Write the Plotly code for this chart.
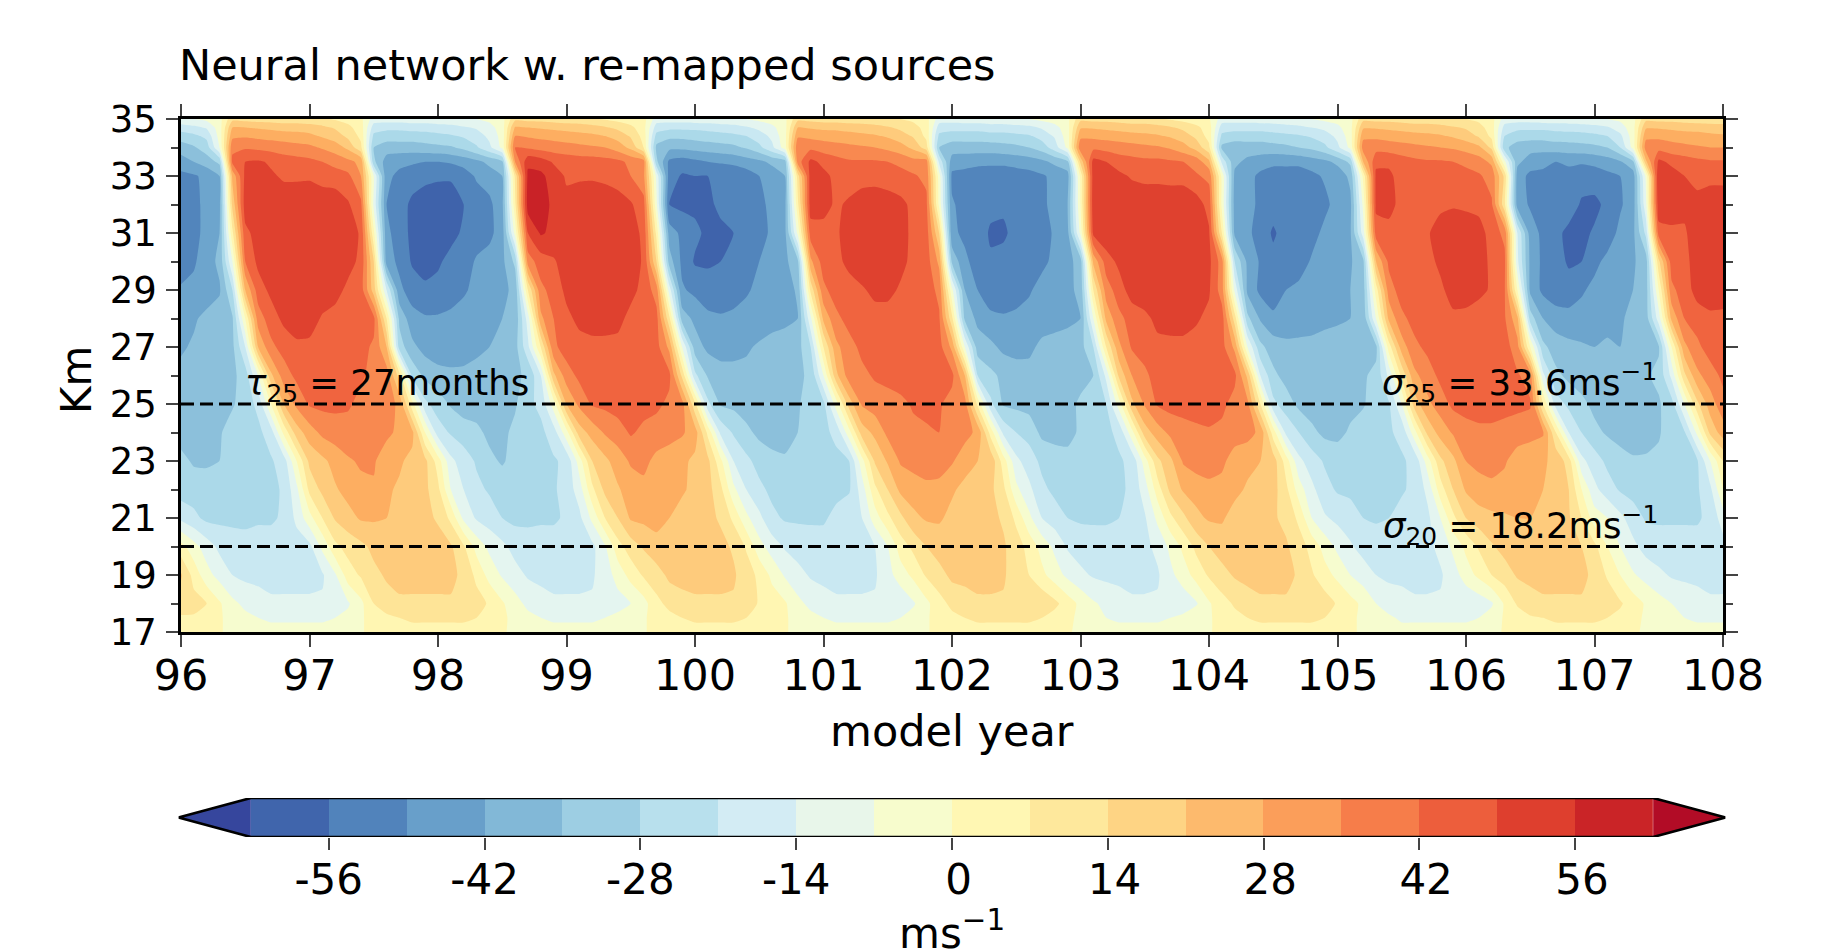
import plotly.graph_objects as go

title_text = "Neural network w. re-mapped sources"
years = [96 + n / 10 for n in range(121)]
heights = [17, 17.5, 18, 19, 20, 21, 22, 23, 24, 25, 26, 27, 28, 29, 30, 31, 32, 33, 33.5, 34, 34.4, 34.7, 35]
x_ticks = list(range(96, 109))
y_ticks = list(range(17, 36, 2))
cbar_ticks = [-56, -42, -28, -14, 0, 14, 28, 42, 56]
cbar_labels = ["-56", "-42", "-28", "-14", "\u00a00", "\u00a014", "\u00a028", "\u00a042", "\u00a056"]
cbar_edges = list(range(-63, 64, 7))
cbar_mids = [e + 3.5 for e in cbar_edges[:-1]]
main_mids = [-68, -60, -52, -44, -36, -28, -20, -12, -4, 4, 12, 20, 28, 36, 44, 52, 60, 68]
ref_levels = [25, 20]
stops = ["#313695", "#4575b4", "#74add1", "#abd9e9", "#e0f3f8", "#ffffbf", "#fee090", "#fdae61", "#f46d43", "#d73027", "#a50026"]

km35 = [-10,-8,-6,-3,14,13,12,12,11,11,
 10,9,7,5,2,-12,-12,-12,-11,-11,
 -10,-10,-9,-8,-6,-3,14,13,13,12,
 11,11,9,7,5,3,3,-12,-12,-12,
 -11,-11,-10,-10,-8,-6,-4,-2,14,13,
 12,12,11,11,10,9,8,6,3,-12,
 -12,-11,-11,-10,-10,-9,-8,-6,-4,-2,
 14,13,13,12,11,11,9,7,5,3,
 1,-12,-12,-12,-11,-11,-10,-9,-8,-6,
 -5,-3,14,13,13,12,11,11,10,9,
 8,6,3,-12,-12,-12,-11,-11,-10,-10,
 -9,-8,-6,-3,14,13,13,12,11,11,
 10]
km34p7 = [-20,-18,-15,-4,24,24,23,22,21,21,
 20,18,15,10,4,-20,-22,-22,-21,-21,
 -20,-19,-17,-15,-11,-4,25,24,23,22,
 21,20,19,17,14,10,3,-20,-22,-22,
 -22,-21,-20,-19,-17,-14,-10,-3,24,23,
 22,22,21,20,19,17,14,11,5,-20,
 -21,-21,-21,-20,-20,-19,-18,-15,-11,-3,
 23,23,22,21,20,20,19,17,14,10,
 4,-20,-21,-21,-21,-20,-19,-18,-16,-14,
 -10,-3,23,23,22,21,20,20,19,17,
 15,11,4,-19,-22,-22,-22,-21,-21,-20,
 -19,-17,-12,-3,23,23,22,21,21,20,
 20]
km34p4 = [-28,-26,-22,-5,30,31,30,29,28,27,
 26,23,20,14,6,-26,-28,-28,-28,-27,
 -26,-25,-23,-20,-14,-5,32,31,30,29,
 28,27,26,24,21,15,5,-27,-30,-30,
 -29,-28,-27,-26,-24,-20,-14,-3,31,30,
 29,28,27,26,25,23,20,15,6,-26,
 -28,-28,-28,-27,-27,-26,-25,-21,-15,-4,
 30,30,29,28,27,26,25,23,20,14,
 5,-26,-28,-28,-28,-27,-26,-25,-23,-20,
 -14,-4,30,30,29,28,27,26,25,23,
 20,15,6,-24,-28,-29,-29,-28,-27,-27,
 -26,-24,-18,-4,30,30,29,28,27,26,
 25]
km34 = [-36,-33,-28,-8,38,39,38,37,36,35,
 34,31,28,22,10,-32,-36,-36,-36,-35,
 -34,-33,-30,-25,-18,-6,40,39,37,36,
 35,34,33,32,28,22,8,-34,-38,-38,
 -37,-36,-35,-34,-31,-26,-18,-4,38,38,
 36,35,34,33,32,30,27,22,12,-32,
 -36,-36,-36,-36,-35,-34,-32,-28,-20,-6,
 38,38,37,36,35,34,33,31,27,21,
 10,-34,-37,-36,-36,-35,-34,-32,-30,-26,
 -18,-6,36,37,36,35,34,33,32,31,
 29,26,14,-30,-36,-37,-37,-36,-36,-35,
 -34,-32,-24,-5,36,37,35,34,33,32,
 32]
km33p5 = [-44,-40,-36,-30,42,48,49,47,44,43,
 42,40,37,34,30,-30,-44,-46,-47,-48,
 -48,-47,-45,-42,-38,-34,32,54,52,47,
 45,44,44,43,42,38,36,-30,-50,-52,
 -50,-48,-47,-46,-44,-42,-38,-36,36,50,
 46,43,41,41,41,40,38,35,36,-18,
 -44,-45,-46,-46,-46,-45,-44,-42,-38,-34,
 18,51,48,44,43,42,42,41,40,37,
 26,-18,-38,-42,-44,-46,-46,-46,-44,-42,
 -38,-30,24,46,47,44,42,41,41,40,
 38,36,30,-6,-38,-44,-46,-48,-46,-47,
 -46,-44,-41,-34,22,50,46,44,42,41,
 41]
km33 = [-50,-49,-46,-40,26,50,51,49,47,47,
 47,45,44,42,32,-8,-46,-50,-52,-54,
 -55,-55,-52,-47,-44,-40,10,58,58,52,
 47,47,47,46,44,40,34,-10,-52,-57,
 -56,-56,-55,-54,-52,-48,-45,-40,12,52,
 50,46,45,45,45,44,43,41,38,-4,
 -50,-51,-52,-53,-53,-52,-51,-49,-46,-43,
 2,52,53,50,47,46,46,45,45,41,
 38,-2,-42,-45,-50,-52,-52,-52,-50,-47,
 -45,-38,2,50,49,46,45,45,45,44,
 43,41,37,14,-44,-50,-50,-51,-52,-53,
 -52,-50,-48,-44,-6,56,52,48,46,46,
 46]
km32 = [-53,-50,-46,-42,18,52,53,53,52,52,
 53,53,53,49,42,-10,-48,-52,-58,-60,
 -60,-60,-56,-52,-50,-42,6,60,60,54,
 50,52,53,53,52,49,43,-6,-56,-58,
 -58,-58,-54,-53,-52,-50,-46,-42,6,52,
 50,47,49,52,53,52,50,46,42,-2,
 -47,-51,-53,-54,-55,-55,-53,-50,-45,-40,
 0,53,54,54,54,53,53,54,54,52,
 45,-2,-43,-45,-50,-53,-54,-54,-53,-50,
 -45,-42,-6,50,50,46,45,44,46,47,
 46,45,41,10,-44,-49,-50,-50,-52,-57,
 -58,-54,-49,-44,-10,54,53,50,50,52,
 52]
km31 = [-54,-50,-46,-40,6,46,51,52,52,53,
 56,54,53,52,47,2,-46,-52,-58,-60,
 -60,-58,-55,-52,-50,-44,-5,48,57,54,
 53,52,52,53,53,52,46,6,-44,-50,
 -54,-58,-58,-56,-53,-50,-47,-42,-6,44,
 46,47,51,54,55,54,51,46,44,16,
 -46,-50,-52,-57,-57,-54,-53,-51,-47,-42,
 -6,50,54,54,54,55,55,54,54,53,
 49,8,-42,-46,-52,-57,-53,-52,-51,-46,
 -44,-41,-12,44,46,46,45,47,52,54,
 54,52,44,38,-16,-44,-50,-54,-58,-58,
 -55,-52,-46,-42,-22,44,46,47,52,53,
 53]
km30 = [-52,-49,-44,-38,-8,40,50,52,52,52,
 52,53,53,51,46,16,-44,-50,-57,-58,
 -57,-54,-52,-47,-45,-42,-30,36,44,47,
 52,53,53,53,53,52,47,16,-36,-50,
 -57,-57,-56,-53,-52,-48,-45,-42,-34,30,
 44,46,50,53,53,52,50,46,44,30,
 -34,-46,-52,-55,-54,-53,-52,-50,-46,-43,
 -36,26,44,50,54,54,54,54,54,53,
 50,36,-24,-42,-49,-54,-55,-52,-47,-45,
 -43,-41,-34,24,42,45,45,45,50,53,
 53,52,46,42,-14,-42,-50,-53,-57,-56,
 -50,-46,-43,-41,-36,14,44,46,51,53,
 53]
km29 = [-47,-46,-44,-41,-24,24,44,50,53,53,
 53,53,51,46,44,20,-16,-46,-52,-55,
 -54,-52,-49,-46,-44,-42,-38,8,38,43,
 50,53,53,53,53,50,46,36,-12,-47,
 -50,-53,-53,-52,-49,-46,-45,-43,-39,10,
 38,44,45,47,50,50,47,46,44,38,
 -6,-40,-48,-53,-53,-52,-49,-45,-44,-42,
 -38,8,36,44,52,53,54,54,54,52,
 49,36,-10,-42,-50,-53,-48,-46,-45,-44,
 -42,-40,-36,4,36,44,45,45,46,52,
 53,50,47,41,0,-42,-50,-53,-53,-49,
 -46,-44,-42,-40,-36,0,38,44,51,53,
 52]
km28 = [-44,-41,-38,-36,-33,0,36,44,50,53,
 52,47,45,44,44,42,8,-34,-45,-47,
 -47,-46,-45,-44,-42,-40,-38,-12,30,40,
 46,50,51,51,50,46,44,43,10,-36,
 -42,-46,-47,-46,-45,-44,-43,-42,-40,-10,
 26,38,43,44,45,45,45,44,43,41,
 10,-34,-42,-46,-47,-46,-45,-44,-43,-42,
 -40,-8,26,38,43,46,50,51,51,49,
 46,44,12,-30,-41,-46,-45,-44,-43,-42,
 -41,-40,-38,-8,26,38,43,44,45,46,
 45,44,43,41,26,-28,-40,-44,-45,-45,
 -44,-42,-41,-38,-36,-12,26,40,44,46,
 46]
km27 = [-41,-39,-37,-36,-34,-16,24,38,43,46,
 46,45,44,43,42,39,24,-28,-38,-43,
 -45,-45,-44,-42,-40,-37,-35,-18,8,38,
 44,45,46,46,46,45,44,43,30,-8,
 -36,-42,-43,-42,-41,-39,-37,-36,-35,-24,
 8,30,37,42,44,44,45,45,44,43,
 30,-8,-36,-38,-42,-43,-42,-38,-37,-36,
 -35,-24,8,30,41,44,46,46,46,45,
 44,43,30,-8,-30,-36,-38,-38,-38,-37,
 -37,-36,-36,-34,4,28,38,42,44,45,
 45,45,44,44,35,0,-30,-36,-38,-39,
 -40,-39,-40,-38,-36,-33,0,30,38,44,
 45]
km26 = [-38,-37,-36,-35,-34,-28,-8,22,36,42,
 43,43,43,42,41,38,36,12,-26,-34,
 -37,-38,-38,-37,-36,-34,-33,-31,-16,22,
 36,42,44,45,45,44,44,43,42,14,
 -22,-33,-37,-38,-38,-37,-35,-34,-33,-31,
 -8,22,36,38,41,43,44,44,44,44,
 42,24,-24,-30,-34,-36,-37,-38,-37,-36,
 -34,-32,-14,18,32,38,44,44,45,45,
 44,43,42,22,-16,-30,-35,-36,-36,-35,
 -35,-34,-33,-30,-14,10,30,36,42,44,
 45,44,44,42,41,36,-14,-30,-34,-36,
 -36,-36,-35,-34,-33,-30,-14,14,30,36,
 42]
km25 = [-36,-36,-35,-35,-33,-28,-22,0,24,34,
 41,42,42,41,38,37,36,30,3,-22,
 -28,-33,-36,-36,-35,-34,-33,-26,-22,-4,
 24,34,41,42,44,44,43,42,38,35,
 10,-22,-33,-34,-36,-36,-35,-34,-33,-28,
 -26,-4,20,33,36,36,38,41,42,41,
 37,35,6,-22,-33,-34,-35,-36,-36,-34,
 -31,-28,-24,-4,22,33,41,43,44,44,
 44,42,37,34,8,-22,-28,-34,-36,-36,
 -35,-34,-33,-27,-25,-8,20,30,36,42,
 44,44,44,43,42,41,8,-20,-26,-30,
 -34,-36,-36,-36,-35,-33,-27,-8,14,28,
 37]
km24 = [-35,-34,-34,-33,-28,-27,-26,-20,2,20,
 28,34,36,37,36,36,34,30,26,0,
 -20,-25,-28,-30,-34,-34,-30,-27,-26,-20,
 -3,20,27,33,36,41,38,36,35,33,
 28,6,-18,-25,-30,-34,-35,-35,-32,-28,
 -26,-22,-3,20,26,34,36,38,39,40,
 37,35,30,5,-18,-24,-27,-34,-35,-34,
 -31,-27,-26,-22,-3,20,28,34,36,38,
 39,38,36,35,30,4,-18,-24,-30,-34,
 -34,-31,-27,-26,-25,-22,-3,18,27,33,
 36,38,38,37,36,35,33,8,-16,-24,
 -30,-33,-35,-36,-35,-33,-27,-25,-6,18,
 28]
km23 = [-30,-33,-33,-32,-28,-27,-26,-25,-20,0,
 18,22,27,31,33,33,27,25,22,18,
 4,-14,-20,-25,-30,-33,-29,-27,-26,-25,
 -22,-4,16,22,28,33,34,30,28,26,
 22,18,2,-16,-22,-27,-30,-31,-31,-29,
 -27,-26,-24,-3,17,25,33,35,36,35,
 33,27,24,22,4,-14,-20,-26,-28,-30,
 -28,-27,-26,-25,-22,-4,14,22,33,36,
 37,34,28,26,24,20,4,-14,-20,-25,
 -28,-29,-28,-27,-26,-25,-22,-4,14,22,
 32,34,35,33,28,26,25,22,12,-14,
 -20,-26,-29,-31,-31,-30,-28,-26,-25,-8,
 8]
km22 = [-28,-28,-29,-28,-28,-27,-27,-26,-23,-10,
 10,18,23,27,30,31,25,23,21,18,
 10,-8,-16,-22,-25,-27,-28,-27,-26,-25,
 -21,-12,6,18,23,28,30,29,27,25,
 22,19,10,-6,-16,-22,-26,-28,-28,-27,
 -27,-26,-25,-12,6,16,26,28,30,30,
 25,22,20,18,10,-6,-14,-22,-26,-28,
 -28,-28,-27,-26,-22,-12,4,18,25,27,
 29,29,26,23,21,19,10,-4,-14,-21,
 -25,-26,-27,-27,-26,-25,-22,-14,4,16,
 25,29,30,29,27,25,24,22,16,0,
 -14,-20,-25,-27,-28,-28,-27,-26,-25,-18,
 0]
km21 = [-18,-22,-26,-26,-26,-26,-25,-25,-23,-14,
 -3,8,17,21,25,25,24,21,20,18,
 15,6,-10,-17,-20,-24,-26,-26,-25,-25,
 -23,-18,-6,8,16,25,26,26,24,21,
 20,18,15,6,-6,-14,-22,-25,-25,-25,
 -25,-22,-18,-16,-4,6,14,22,25,25,
 22,20,19,18,15,6,-6,-16,-20,-24,
 -25,-25,-25,-24,-18,-17,-6,6,14,22,
 25,25,21,20,18,17,14,6,-8,-15,
 -18,-20,-24,-25,-24,-21,-19,-18,-8,6,
 16,20,22,23,24,24,22,20,17,8,
 -4,-8,-14,-20,-25,-25,-25,-25,-25,-22,
 -12]
km20 = [3,-5,-12,-18,-20,-21,-21,-21,-21,-20,
 -18,-6,6,11,14,18,20,21,21,21,
 19,17,9,-3,-10,-14,-19,-20,-21,-21,
 -21,-20,-18,-9,5,12,17,22,22,21,
 21,20,18,15,7,-5,-12,-17,-20,-21,
 -21,-21,-20,-18,-16,-8,4,10,16,20,
 21,21,20,19,17,12,5,-3,-10,-17,
 -20,-21,-21,-20,-19,-18,-14,-6,2,10,
 16,20,21,21,20,19,17,12,5,-3,
 -10,-15,-19,-20,-21,-21,-20,-18,-14,-6,
 2,9,15,19,21,22,21,20,18,16,
 10,0,-8,-14,-19,-21,-21,-21,-21,-20,
 -19]
km19 = [17,5,-5,-11,-16,-18,-18,-18,-18,-18,
 -18,-17,-9,4,9,14,17,18,18,18,
 18,18,14,6,-3,-9,-13,-17,-18,-18,
 -18,-18,-17,-12,-5,3,9,12,18,18,
 18,18,18,17,12,6,-2,-9,-13,-17,
 -18,-18,-18,-18,-17,-11,-4,2,9,13,
 18,18,18,18,17,12,8,2,-4,-10,
 -14,-17,-18,-18,-18,-18,-17,-10,-4,3,
 9,13,17,18,18,18,18,15,9,3,
 -2,-8,-12,-16,-18,-18,-18,-18,-17,-12,
 -4,2,8,12,17,18,18,18,18,18,
 14,7,0,-7,-11,-14,-17,-18,-18,-18,
 -18]
km18 = [12,11,8,1,-6,-10,-13,-15,-15,-15,
 -15,-15,-13,-9,-2,8,13,15,15,15,
 15,15,14,11,7,1,-5,-10,-13,-15,
 -15,-15,-15,-14,-11,-8,-3,6,10,14,
 15,15,15,15,13,7,4,1,-6,-10,
 -13,-15,-15,-15,-15,-15,-14,-9,-2,5,
 10,13,15,15,15,15,15,14,10,4,
 -2,-7,-10,-13,-15,-15,-15,-15,-13,-9,
 -1,5,9,13,15,15,15,15,15,12,
 7,3,-2,-8,-11,-13,-15,-15,-15,-15,
 -15,-13,-9,1,9,13,15,15,15,15,
 15,13,9,4,-1,-5,-8,-10,-13,-15,
 -15]
km17p5 = [7,7,5,1,-3,-6,-8,-9,-9,-9,
 -9,-9,-8,-6,-1,3,6,8,9,9,
 9,9,9,8,5,2,-3,-6,-8,-9,
 -9,-9,-9,-8,-6,-3,-1,3,6,8,
 9,9,9,9,8,6,3,1,-3,-6,
 -8,-9,-9,-9,-9,-9,-8,-5,-1,3,
 6,8,9,9,9,9,9,8,5,2,
 -2,-5,-8,-9,-9,-9,-9,-8,-6,-3,
 -1,3,6,8,9,9,9,9,9,8,
 5,2,-2,-5,-7,-9,-9,-9,-9,-9,
 -9,-8,-5,1,4,7,8,9,9,9,
 9,8,6,2,-1,-3,-6,-8,-9,-9,
 -9]
km17 = [5,5,3,1,-3,-5,-6,-6,-6,-6,
 -6,-6,-5,-4,-1,3,5,6,6,6,
 6,6,6,5,4,1,-2,-4,-5,-6,
 -6,-6,-6,-5,-4,-3,-1,3,5,6,
 6,6,6,6,5,4,3,1,-3,-5,
 -6,-6,-6,-6,-6,-6,-5,-3,-1,3,
 5,6,6,6,6,6,6,5,3,1,
 -2,-4,-5,-6,-6,-6,-6,-5,-4,-2,
 -1,3,5,6,6,6,6,6,6,5,
 4,2,-2,-4,-5,-6,-6,-6,-6,-6,
 -6,-5,-3,1,4,5,6,6,6,6,
 6,5,4,1,-1,-3,-4,-5,-6,-6,
 -6]

wind = [km17, km17p5, km18, km19, km20, km21, km22, km23, km24, km25, km26, km27, km28,
        km29, km30, km31, km32, km33, km33p5, km34, km34p4, km34p7, km35]
for row in wind:
    assert len(row) == len(years)


def rdylbu(v):
    pos = 5 + v / 14
    i = min(int(pos), 9)
    f = pos - i
    a = [int(stops[i][k:k + 2], 16) for k in (1, 3, 5)]
    b = [int(stops[i + 1][k:k + 2], 16) for k in (1, 3, 5)]
    c = [round(p + (q - p) * f) for p, q in zip(a, b)]
    return f"rgb({c[0]},{c[1]},{c[2]})"


W, H = 1832, 952
PAGE = 8  # body margin of the page


def X(px):
    return (px - PAGE) / W


def Y(px):
    return (H - px + PAGE) / H


FONT = "DejaVu Sans"
main_scale = [[i / (len(main_mids) - 1), rdylbu(v)] for i, v in enumerate(main_mids)]
bar_scale = [[i / (len(cbar_mids) - 1), rdylbu(v)] for i, v in enumerate(cbar_mids)]

fig = go.Figure()
fig.add_trace(go.Contour(
    x=years, y=heights, z=wind, colorscale=main_scale, showscale=False,
    autocontour=False,
    contours=dict(start=-64.01, end=63.99, size=8, coloring="fill", showlines=False),
    line=dict(width=0, smoothing=0.5), hoverinfo="skip", connectgaps=True))
for lev in ref_levels:
    fig.add_trace(go.Scatter(x=[x_ticks[0], x_ticks[-1]], y=[lev, lev], mode="lines",
                             line=dict(color="black", width=2.8, dash="13px,6px"), hoverinfo="skip"))

fig.add_trace(go.Heatmap(x=cbar_edges, y=[0, 1], z=[cbar_mids], colorscale=bar_scale, showscale=False,
                         zmin=cbar_mids[0], zmax=cbar_mids[-1], xaxis="x2", yaxis="y2", hoverinfo="skip"))
tip = 69.5
for edge, t, c in ((-63, -tip, -66.5), (63, tip, 66.5)):
    fig.add_trace(go.Scatter(x=[edge, t, edge, edge], y=[0, 0.5, 1, 0], mode="lines", fill="toself",
                             fillcolor=rdylbu(c), line=dict(width=0), xaxis="x2", yaxis="y2", hoverinfo="skip"))
fig.add_trace(go.Scatter(x=[-63, -tip, -63, 63, tip, 63, -63], y=[0, 0.5, 1, 1, 0.5, 0, 0], mode="lines",
                         line=dict(color="black", width=2.6), xaxis="x2", yaxis="y2", cliponaxis=False, hoverinfo="skip"))

fig.update_layout(
    width=W, height=H, autosize=False, showlegend=False, paper_bgcolor="white", plot_bgcolor="white",
    margin=dict(l=0, r=0, t=0, b=0, autoexpand=False), font=dict(family=FONT, color="black", size=42),
    xaxis=dict(domain=[X(181), X(1723)], range=[96, 108], tickmode="array", tickvals=x_ticks, automargin=False,
               ticktext=[str(t) for t in x_ticks], ticks="outside", ticklen=12, tickwidth=2, showline=True,
               linecolor="black", linewidth=2.6, mirror="allticks", showgrid=False, zeroline=False,
               ticklabelstandoff=-8, tickfont=dict(size=43, family=FONT)),
    yaxis=dict(domain=[Y(632), Y(119)], range=[17, 35], tick0=17, dtick=2, ticks="outside",
               ticklen=12, tickwidth=2, showline=True, linecolor="black", linewidth=2.6, mirror="allticks",
               automargin=False, showgrid=False, zeroline=False, ticklabelstandoff=2, tickfont=dict(size=37, family=FONT),
               minor=dict(dtick=1, tick0=17, ticks="outside", ticklen=7, tickwidth=2, showgrid=False)),
    xaxis2=dict(domain=[X(178.5), X(1725.5)], range=[-tip, tip], anchor="y2", tickmode="array", tickvals=cbar_ticks,
                ticktext=cbar_labels, ticks="outside", ticklen=12, tickwidth=2, automargin=False,
                showline=False, showgrid=False, zeroline=False, ticklabelstandoff=-6, tickfont=dict(size=42, family=FONT)),
    yaxis2=dict(domain=[Y(837), Y(798)], range=[0, 1], anchor="x2", visible=False),
    annotations=[
        dict(text=title_text, xref="paper", yref="paper", x=X(177), y=Y(65), xanchor="left", yanchor="middle",
             showarrow=False, font=dict(size=43, family=FONT)),
        dict(text="model year", xref="paper", yref="paper", x=X(952), y=Y(731), xanchor="center", yanchor="middle",
             showarrow=False, font=dict(size=43, family=FONT)),
        dict(text="Km", xref="paper", yref="paper", x=X(76), y=Y(380), xanchor="center", yanchor="middle",
             textangle=-90, showarrow=False, font=dict(size=42, family=FONT)),
        dict(text="ms<sup>\u22121</sup>", xref="paper", yref="paper", x=X(952), y=Y(930), xanchor="center",
             yanchor="middle", showarrow=False, font=dict(size=42, family=FONT)),
        dict(text="<i>\u03c4</i><sub>25</sub> = 27months", xref="x", yref="y", x=96.48, y=25, xanchor="left", yshift=-6,
             yanchor="bottom", showarrow=False, font=dict(size=35.5, family=FONT)),
        dict(text="<i>\u03c3</i><sub>25</sub> = 33.6ms<sup>\u22121</sup>", xref="x", yref="y", x=105.33, y=25, yshift=-6,
             xanchor="left", yanchor="bottom", showarrow=False, font=dict(size=35.5, family=FONT)),
        dict(text="<i>\u03c3</i><sub>20</sub> = 18.2ms<sup>\u22121</sup>", xref="x", yref="y", x=105.34, y=20, yshift=-6,
             xanchor="left", yanchor="bottom", showarrow=False, font=dict(size=35.5, family=FONT)),
    ],
)
fig.write_html("out.html")
